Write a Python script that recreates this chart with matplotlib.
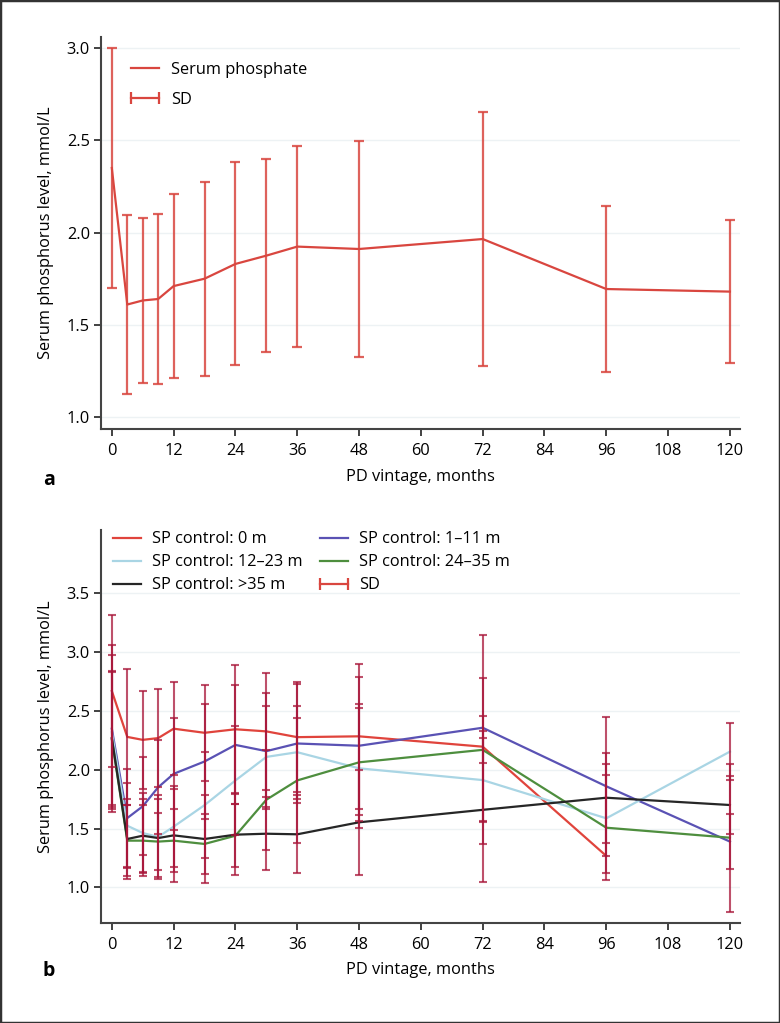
import numpy as np
import matplotlib
matplotlib.use("Agg")
import matplotlib.pyplot as plt
from matplotlib.lines import Line2D
from matplotlib.patches import Rectangle

plt.rcParams["font.family"] = ["Open Sans", "DejaVu Sans"]
plt.rcParams["font.size"] = 11.8

nan = np.nan

# panel a: whole cohort
months_a = [0, 3, 6, 9, 12, 18, 24, 30, 36, 48, 72, 96, 120]
mean_a = [2.35, 1.61, 1.632, 1.64, 1.71, 1.75, 1.83, 1.875, 1.924, 1.911, 1.965, 1.694, 1.68]
sd_a = [0.65, 0.484, 0.448, 0.46, 0.50, 0.525, 0.55, 0.522, 0.546, 0.585, 0.688, 0.449, 0.389]

# panel b: by duration of serum phosphate control
months_b = [0, 3, 6, 9, 12, 18, 24, 30, 36, 48, 72, 96, 120]
sp0_mean = [2.67, 2.28, 2.255, 2.27, 2.35, 2.315, 2.345, 2.327, 2.278, 2.285, 2.197, 1.268, nan]
sp0_sd = [0.645, 0.58, 0.418, 0.418, 0.397, 0.41, 0.543, 0.495, 0.469, 0.614, 0.136, nan, nan]
sp1_mean = [2.35, 1.59, 1.69, 1.852, 1.966, 2.071, 2.212, 2.159, 2.224, 2.205, 2.358, 1.86, 1.39]
sp1_sd = [0.71, 0.42, 0.417, 0.40, 0.476, 0.486, 0.506, 0.495, 0.509, 0.587, 0.79, 0.592, 0.234]
sp2_mean = [2.32, 1.525, 1.463, 1.43, 1.517, 1.70, 1.91, 2.11, 2.15, 2.013, 1.913, 1.588, 2.155]
sp2_sd = [0.655, 0.36, 0.336, 0.36, 0.347, 0.45, 0.467, 0.43, 0.395, 0.51, 0.545, 0.463, 0.245]
sp3_mean = [2.26, 1.398, 1.398, 1.39, 1.398, 1.37, 1.44, 1.746, 1.91, 2.064, 2.17, 1.508, 1.423]
sp3_sd = [0.575, 0.30, 0.30, 0.24, 0.265, 0.255, 0.27, 0.425, 0.528, 0.495, 0.612, 0.446, 0.628]
sp4_mean = [2.27, 1.412, 1.44, 1.42, 1.443, 1.412, 1.449, 1.457, 1.452, 1.554, 1.66, 1.763, 1.701]
sp4_sd = [0.57, 0.34, 0.31, 0.33, 0.397, 0.375, 0.346, 0.31, 0.33, 0.448, 0.613, 0.383, 0.244]

labels_b = ["SP control: 0 m", "SP control: 1\u201311 m", "SP control: 12\u201323 m",
            "SP control: 24\u201335 m", "SP control: >35 m"]
colors_b = ["#e0443c", "#5a52b4", "#a9d5e4", "#4e8e3e", "#262626"]

x_ticks = [0, 12, 24, 36, 48, 60, 72, 84, 96, 108, 120]
red = "#d9463f"
sd_red = "#a8173a"


def style_axes(ax, yticks):
    ax.set_xlim(-2.1, 122)
    ax.set_xticks(x_ticks)
    ax.set_yticks(yticks)
    ax.set_yticklabels([f"{v:.1f}" for v in yticks])
    for v in yticks:
        ax.axhline(v, color="#edf2f4", lw=1, zorder=0)
    for s in ["top", "right"]:
        ax.spines[s].set_visible(False)
    for s in ["left", "bottom"]:
        ax.spines[s].set_color("#444444")
        ax.spines[s].set_linewidth(1.5)
    ax.tick_params(direction="out", length=5, width=1.3, color="#333333", pad=3)
    ax.tick_params(axis="x", pad=5)
    ax.set_xlabel("PD vintage, months", labelpad=7)
    ax.set_ylabel("Serum phosphorus level, mmol/L", labelpad=9)


fig = plt.figure(figsize=(7.8, 10.23), dpi=100)

# ---- panel a
ax1 = fig.add_axes([0.1295, 0.5806, 0.8195, 0.3832])
ax1.plot(months_a, mean_a, color=red, lw=1.6, zorder=3)
ax1.errorbar(months_a, mean_a, yerr=sd_a, fmt="none", ecolor=red, elinewidth=1.6,
             capsize=3.6, capthick=1.6, alpha=0.85, zorder=2)
ax1.set_ylim(0.935, 3.06)
style_axes(ax1, [1.0, 1.5, 2.0, 2.5, 3.0])

h_a = [Line2D([], [], color=red, lw=1.6),
       Line2D([], [], color=red, lw=1.6, marker="|", markersize=8, markeredgewidth=1.6)]
ax1.legend(h_a, ["Serum phosphate", "SD"], loc="upper left", bbox_to_anchor=(0.039, 0.937),
           frameon=False, numpoints=2, handlelength=2.3, handletextpad=0.45,
           labelspacing=0.85, borderpad=0, borderaxespad=0)

# ---- panel b
ax2 = fig.add_axes([0.1295, 0.098, 0.8195, 0.384])
means_b = [sp0_mean, sp1_mean, sp2_mean, sp3_mean, sp4_mean]
sds_b = [sp0_sd, sp1_sd, sp2_sd, sp3_sd, sp4_sd]
lines = []
for m, c, lab in zip(means_b, colors_b, labels_b):
    ln, = ax2.plot(months_b, m, color=c, lw=1.6, zorder=2)
    lines.append(ln)
for m, s in zip(means_b, sds_b):
    m = np.array(m)
    s = np.array(s)
    ok = ~np.isnan(s)
    ax2.errorbar(np.array(months_b)[ok], m[ok], yerr=s[ok], fmt="none", ecolor=sd_red,
                 elinewidth=1.5, capsize=3.2, capthick=1.5, alpha=0.75, zorder=3)
ax2.set_ylim(0.70, 4.04)
style_axes(ax2, [1.0, 1.5, 2.0, 2.5, 3.0, 3.5])

sd_handle = Line2D([], [], color=red, lw=1.6, marker="|", markersize=8, markeredgewidth=1.6)
h_b = [lines[0], lines[2], lines[4], lines[1], lines[3], sd_handle]
l_b = [labels_b[0], labels_b[2], labels_b[4], labels_b[1], labels_b[3], "SD"]
ax2.legend(h_b, l_b, ncol=2, loc="upper left", bbox_to_anchor=(0.011, 0.996),
           frameon=False, numpoints=2, handlelength=2.3, handletextpad=0.4,
           labelspacing=0.42, columnspacing=0.75, borderpad=0, borderaxespad=0)

fig.text(0.055, 0.531, "a", fontweight="bold", fontsize=14, ha="left", va="center")
fig.text(0.055, 0.051, "b", fontweight="bold", fontsize=14, ha="left", va="center")

fig.patches.append(Rectangle((0, 0), 1, 1, transform=fig.transFigure, fill=False,
                             edgecolor="#333333", lw=2.5))

fig.savefig("out.png", dpi=100, facecolor="white")
